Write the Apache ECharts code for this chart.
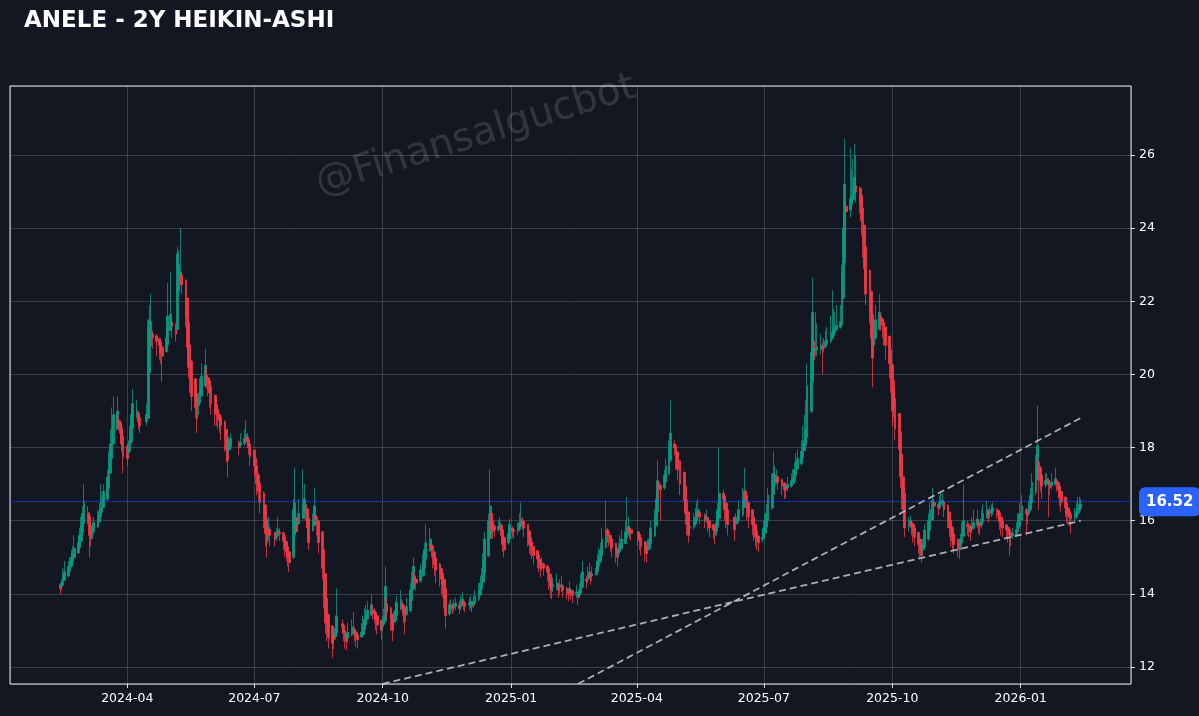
<!DOCTYPE html>
<html>
<head>
<meta charset="utf-8">
<script src="https://cdn.jsdelivr.net/npm/echarts@6/dist/echarts.min.js"></script>
<style>
html,body{margin:0;padding:0;background:#131722;}
#chart{width:1199px;height:716px;}
</style>
</head>
<body>
<div id="chart"></div>
<script>
// ---- DATA ----
const TITLE = 'ANELE - 2Y HEIKIN-ASHI';
const WATERMARK = '@Finansalgucbot';
const START_DATE = '2024-02-13';
const HOLIDAYS = ['2024-04-11','2024-04-12','2024-04-23','2024-05-01','2024-06-17','2024-06-18','2024-06-19','2024-07-15','2024-08-30','2024-10-29',
  '2025-01-01','2025-03-31','2025-04-01','2025-04-23','2025-05-01','2025-05-19','2025-06-06','2025-06-09','2025-07-15','2025-10-29','2026-01-01'];
const LAST_PRICE = 16.52;
const X_MIN = '2024-01-08', X_MAX = '2026-03-21';
const Y_MIN = 11.535, Y_MAX = 27.89;
const TREND_UP = [['2025-02-18', 11.54], ['2026-02-13', 18.81]];
const TREND_LOW = [['2024-10-01', 11.54], ['2026-02-13', 16.0]];

const haOpen = [
14.25,14.2,14.25,14.38,14.49,14.62,14.76,14.88,14.99,15.12,
15.26,15.43,15.67,15.93,16.22,16.13,15.87,15.68,15.71,15.83,
15.97,16.11,16.23,16.37,16.59,16.9,17.3,17.7,18.1,18.5,
18.75,18.68,18.54,18.32,18.04,17.87,17.91,18.16,18.53,18.87,
18.94,18.82,18.71,18.8,20.05,20.78,21.12,21.06,20.98,20.89,
20.75,20.63,20.81,21.2,21.43,21.36,21.23,22.27,22.63,22.72,
22.58,22.09,21.42,20.81,20.36,19.88,19.49,19.15,19.22,19.41,
19.68,19.97,19.91,19.83,19.67,19.43,19.19,19.05,
18.9,18.83,18.71,18.5,18.23,17.94,18.02,18.13,18.07,18.11,18.18,
18.27,18.21,18.1,17.93,17.71,17.5,17.25,17.03,16.76,16.43,
16.04,15.72,15.76,15.68,
15.55,15.6,15.68,15.67,15.56,
15.43,15.29,15.15,15.0,15.65,16.08,15.89,15.92,16.06,16.28,
16.44,16.32,16.06,15.73,15.87,16.13,16.09,16.0,15.7,15.2,
14.55,13.88,13.44,13.12,12.89,12.82,12.94,13.17,13.14,
13.0,12.88,12.79,12.87,12.99,13.02,12.96,12.88,12.82,12.89,
13.02,13.16,13.31,13.43,13.57,13.54,13.5,13.4,13.28,13.14,
13.17,13.26,13.73,13.62,13.44,13.22,13.26,13.41,13.58,13.72,
13.69,13.6,13.43,13.54,13.82,14.14,14.45,14.4,14.35,14.5,
14.7,14.95,15.18,15.34,15.3,15.15,14.98,14.82,14.69,14.55,
14.4,14.15,13.45,13.58,13.68,13.62,13.66,13.7,13.65,13.72,
13.8,13.75,13.7,13.72,13.76,13.7,13.75,13.85,13.98,14.14,
14.32,14.58,15.04,15.52,16.2,16.0,15.85,15.75,15.8,15.88,
15.75,15.55,15.4,15.5,15.8,15.75,15.72,15.76,15.85,16.0,
15.98,15.9,15.72,15.55,15.42,15.3,15.18,15.06,14.95,14.8,
14.82,14.76,14.68,14.54,14.37,14.2,14.22,14.26,14.18,14.19,
14.22,14.16,14.1,14.05,14.1,14.08,14.0,14.02,13.96,14.03,
14.19,14.4,14.38,14.44,14.52,14.5,14.52,14.61,14.76,14.88,
15.04,15.27,15.75,15.68,15.6,15.5,15.38,15.24,15.12,15.16,
15.25,15.38,15.54,15.67,15.8,15.75,15.7,15.62,15.54,15.42,
15.28,15.19,15.24,15.37,15.58,15.86,16.23,17.05,16.97,16.9,
17.07,17.3,17.65,18.1,18.05,17.88,17.64,17.32,16.94,16.57,
16.24,15.8,15.82,15.91,16.0,16.12,16.22,16.16,16.08,16.09,
16.0,15.9,15.82,15.7,15.82,16.06,16.75,16.67,16.48,16.29,
16.1,15.9,15.95,16.02,16.16,16.38,16.8,16.7,16.5,16.3,
16.1,15.9,15.72,15.58,15.49,15.52,15.66,15.83,16.0,16.35,
16.72,17.0,17.1,17.2,17.12,17.03,16.94,16.9,16.95,17.02,
17.1,17.25,17.42,17.56,17.73,17.92,18.06,18.28,18.99,19.8,
20.9,20.65,20.68,20.7,20.78,20.74,20.77,20.84,20.9,20.98,
21.06,21.15,21.22,21.29,21.37,22.1,23.05,24.6,24.5,24.65,
24.78,24.94,25.17,25.1,24.9,24.55,24.08,23.49,22.85,22.27,
21.64,20.8,21.0,21.25,21.6,21.52,21.43,21.3,21.05,20.68,
20.26,19.63,19.35,18.93,18.44,17.82,17.2,16.75,15.85,15.9,
15.95,15.9,15.8,15.68,15.5,15.35,15.2,15.28,15.5,15.75,
16.02,16.5,16.45,16.4,16.45,16.5,16.52,16.42,16.24,16.02,
15.82,15.64,15.5,15.38,15.3,15.4,15.58,15.9,15.88,15.84,
15.77,15.8,15.88,15.96,15.93,15.89,15.97,16.08,16.25,16.2,
16.22,16.26,16.3,16.28,16.22,16.1,15.98,15.89,15.82,15.76,
15.68,15.6,15.62,15.7,15.85,16.02,16.3,16.25,16.2,16.3,
16.5,16.78,17.14,17.6,17.45,17.25,17.0,17.05,17.1,17.05,
16.95,17.0,17.1,17.05,16.95,16.8,16.65,16.5,16.35,16.25,
16.18,16.1,16.12,16.18,16.27,16.36];

const haClose = [
14.15,14.3,14.5,14.6,14.75,14.9,15.0,15.1,15.25,15.4,
15.6,15.9,16.2,16.5,16.05,15.6,15.5,15.75,15.95,16.1,
16.25,16.35,16.5,16.8,17.2,17.7,18.1,18.5,18.9,19.0,
18.6,18.4,18.1,17.75,17.7,17.95,18.4,18.9,19.2,19.0,
18.7,18.6,18.9,21.3,21.5,21.45,21.0,20.9,20.8,20.6,
20.5,21.0,21.6,21.65,21.3,21.1,23.3,23.0,22.8,22.45,
21.6,20.75,20.2,19.9,19.4,19.1,18.8,19.3,19.6,19.95,
20.25,19.85,19.75,19.5,19.2,18.95,18.9,18.85,
18.75,18.6,18.3,17.95,17.65,18.1,18.25,18.0,18.15,18.25,18.35,
18.15,18.0,17.75,17.5,17.3,17.0,16.8,16.5,16.1,15.65,
15.4,15.8,15.6,15.5,
15.65,15.75,15.65,15.45,15.3,
15.15,15.0,14.85,16.3,16.5,15.7,15.95,16.2,16.5,16.6,
16.2,15.8,15.4,16.0,16.4,16.05,15.9,15.4,14.7,13.9,
13.2,13.0,12.8,12.65,12.75,13.05,13.4,13.1,12.95,
12.8,12.7,12.95,13.1,13.05,12.9,12.8,12.75,12.95,13.15,
13.3,13.45,13.55,13.7,13.5,13.45,13.3,13.15,13.0,13.2,
13.35,14.2,13.5,13.25,13.0,13.3,13.55,13.75,13.85,13.65,
13.5,13.25,13.65,14.1,14.45,14.75,14.35,14.3,14.65,14.9,
15.2,15.4,15.5,15.25,15.0,14.8,14.65,14.55,14.4,14.25,
13.9,13.4,13.7,13.7,13.6,13.7,13.75,13.6,13.8,13.85,
13.7,13.65,13.75,13.8,13.65,13.8,13.95,14.1,14.3,14.5,
14.85,15.5,16.0,16.4,15.75,15.7,15.75,15.85,15.95,15.6,
15.35,15.2,15.65,15.9,15.7,15.7,15.8,15.95,16.05,15.95,
15.8,15.55,15.35,15.3,15.2,15.05,14.95,14.85,14.7,14.85,
14.7,14.6,14.4,14.2,14.1,14.25,14.3,14.1,14.2,14.25,
14.1,14.05,14.0,14.15,14.05,13.95,14.05,13.9,14.1,14.35,
14.6,14.35,14.5,14.6,14.45,14.55,14.7,14.9,15.0,15.2,
15.5,15.75,15.6,15.55,15.4,15.25,15.1,15.0,15.2,15.35,
15.5,15.7,15.8,15.85,15.7,15.65,15.55,15.45,15.3,15.15,
15.1,15.3,15.5,15.8,16.15,16.6,17.1,16.9,16.85,17.25,
17.5,18.0,18.4,18.0,17.7,17.4,17.0,16.55,16.2,15.9,
15.6,15.85,16.0,16.1,16.25,16.3,16.1,16.0,16.1,15.9,
15.8,15.75,15.6,15.95,16.3,16.75,16.6,16.3,16.1,15.9,
15.75,16.0,16.1,16.3,16.6,16.8,16.6,16.3,16.1,15.9,
15.7,15.55,15.45,15.4,15.55,15.8,16.0,16.2,16.7,17.1,
17.3,17.25,17.2,17.05,16.95,16.85,16.85,17.0,17.1,17.2,
17.4,17.6,17.7,17.9,18.1,18.2,18.5,19.7,20.6,21.7,
20.4,20.7,20.75,20.8,20.7,20.8,20.9,20.95,21.05,21.15,
21.25,21.3,21.35,21.45,22.8,24.0,25.2,24.45,24.8,24.9,
25.1,25.4,25.0,24.7,24.2,23.6,22.9,22.2,21.7,21.0,
20.45,21.25,21.5,21.7,21.45,21.35,21.2,20.8,20.3,19.85,
19.0,19.1,18.5,17.95,17.2,16.6,16.3,15.8,15.95,16.0,
15.85,15.7,15.55,15.35,15.2,15.05,15.35,15.75,16.0,16.3,
16.55,16.4,16.35,16.5,16.55,16.55,16.3,16.05,15.8,15.6,
15.45,15.35,15.25,15.2,15.5,15.75,16.0,15.85,15.8,15.7,
15.85,15.95,16.05,15.9,15.85,16.05,16.2,16.3,16.15,16.25,
16.3,16.35,16.25,16.15,16.0,15.85,15.8,15.75,15.7,15.6,
15.55,15.65,15.75,16.0,16.2,16.4,16.2,16.15,16.4,16.7,
17.05,17.5,18.05,17.35,17.1,16.95,17.1,17.15,17.0,16.9,
17.05,17.15,17.0,16.85,16.65,16.5,16.35,16.2,16.15,16.1,
16.05,16.15,16.25,16.35,16.45,16.45];

const haLow = [
14.0,14.1,14.2,14.35,14.45,14.6,14.7,14.85,14.95,15.1,
15.2,15.4,15.65,15.9,15.9,15.0,15.3,15.5,15.6,15.8,
15.95,16.1,16.2,16.35,16.55,16.9,17.3,17.7,18.1,18.5,
18.5,18.2,17.9,17.3,17.5,17.8,17.85,18.1,18.5,18.8,
18.5,18.4,18.6,18.8,20.0,20.7,20.7,20.5,20.4,20.3,
19.8,20.6,20.8,21.2,21.0,20.9,21.2,22.2,22.5,22.2,
21.3,20.5,19.9,19.5,19.0,18.8,18.4,18.9,19.2,19.4,
19.65,19.6,19.4,19.1,18.9,18.6,18.6,18.5,
18.4,18.2,17.9,17.6,17.2,17.8,17.95,17.8,18.0,18.05,18.1,
18.0,17.8,17.5,17.2,17.0,16.7,16.5,16.2,15.8,15.3,
15.0,15.45,15.3,15.3,
15.45,15.55,15.45,15.2,15.0,
14.9,14.75,14.6,14.95,15.6,15.6,15.8,15.9,16.05,16.25,
16.0,15.5,15.2,15.7,15.85,15.9,15.6,15.1,14.4,13.6,
12.9,12.7,12.5,12.25,12.5,12.75,12.9,12.9,12.7,
12.5,12.45,12.7,12.85,12.95,12.7,12.55,12.5,12.8,12.85,
13.0,13.1,13.3,13.4,13.3,13.2,13.0,12.9,12.75,13.0,
13.1,13.2,13.3,13.0,12.7,13.1,13.2,13.4,13.55,13.4,
13.2,12.9,13.4,13.5,13.8,14.1,14.2,14.1,14.3,14.45,
14.65,14.9,15.15,15.0,14.7,14.5,14.3,14.2,14.0,13.9,
13.6,13.05,13.4,13.5,13.45,13.5,13.55,13.45,13.55,13.65,
13.55,13.5,13.55,13.6,13.5,13.6,13.7,13.8,13.95,14.1,
14.3,14.55,15.0,15.5,15.6,15.5,15.55,15.7,15.75,15.4,
15.15,15.0,15.35,15.45,15.55,15.5,15.6,15.7,15.8,15.75,
15.55,15.3,15.1,15.05,14.95,14.8,14.7,14.6,14.45,14.65,
14.5,14.35,14.1,13.9,13.85,14.05,14.1,13.9,14.0,14.05,
13.9,13.85,13.8,13.95,13.85,13.75,13.9,13.7,13.9,14.0,
14.15,14.15,14.3,14.4,14.25,14.35,14.5,14.6,14.7,14.85,
15.0,15.25,15.4,15.3,15.15,15.0,14.85,14.75,15.0,15.1,
15.2,15.35,15.5,15.6,15.5,15.45,15.3,15.2,15.05,14.9,
14.85,15.1,15.2,15.35,15.55,15.85,16.2,16.6,16.0,16.85,
17.05,17.25,17.6,17.8,17.4,17.1,16.7,16.3,15.9,15.6,
15.4,15.6,15.75,15.85,15.95,16.05,15.9,15.8,15.95,15.7,
15.55,15.5,15.35,15.6,15.8,16.0,16.3,16.0,15.8,15.6,
15.45,15.85,15.9,16.0,16.1,16.35,16.35,16.0,15.8,15.6,
15.45,15.3,15.2,15.15,15.4,15.5,15.6,15.8,15.95,16.3,
16.7,16.95,17.0,16.85,16.7,16.6,16.6,16.8,16.9,17.0,
17.05,17.2,17.4,17.5,17.7,17.9,18.0,18.25,18.95,19.75,
19.9,20.5,20.5,20.55,20.0,20.6,20.7,20.8,20.85,20.95,
21.0,21.1,21.2,21.25,21.35,22.05,23.0,23.9,24.3,24.5,
24.7,24.9,24.7,24.4,23.8,23.2,22.4,21.9,21.4,20.6,
19.65,20.6,20.95,21.2,21.2,21.0,20.8,20.4,19.9,19.5,
18.6,18.8,18.2,17.6,16.9,16.3,15.9,15.55,15.7,15.8,
15.6,15.4,15.3,15.1,14.95,14.85,15.1,15.2,15.45,15.7,
16.0,16.2,16.15,16.3,16.35,16.4,16.1,15.8,15.55,15.3,
15.2,15.1,15.0,14.95,15.2,15.35,15.55,15.6,15.55,15.45,
15.65,15.75,15.8,15.65,15.6,15.8,15.9,16.05,15.95,16.05,
16.1,16.15,16.05,15.95,15.75,15.6,15.55,15.5,15.4,15.05,
15.3,15.5,15.55,15.65,15.8,16.0,15.6,15.9,16.15,16.25,
16.45,16.7,17.1,16.3,16.8,16.6,16.9,16.95,16.1,16.7,
16.85,16.95,16.8,16.6,16.4,16.25,16.1,15.95,15.9,15.85,
15.65,15.95,16.05,16.1,16.2,16.3];

const haHigh = [
14.3,14.4,14.7,14.9,14.9,15.0,15.2,15.3,15.6,15.6,
15.8,16.1,16.4,17.0,16.4,16.2,15.9,15.9,16.1,16.3,
16.5,17.0,16.7,17.0,17.4,17.9,18.5,19.1,19.4,19.4,
18.9,18.75,18.6,18.35,18.1,18.2,18.6,19.2,19.6,19.3,
19.0,18.85,19.2,21.5,21.9,22.2,21.2,21.1,21.0,20.9,
20.8,21.3,22.5,22.8,21.5,21.4,23.5,23.4,24.0,22.8,
22.6,22.1,21.4,20.8,20.4,19.9,19.5,19.5,19.9,20.3,
20.7,20.2,19.95,19.85,19.7,19.45,19.2,19.1,
18.95,18.85,18.75,18.5,18.25,18.3,18.4,18.2,18.4,18.5,18.75,
18.4,18.3,18.1,17.95,17.75,17.5,17.3,17.05,16.8,16.45,
16.05,16.1,15.85,15.7,
15.8,16.1,15.8,15.7,15.6,
15.45,15.3,15.15,16.6,17.45,16.2,16.2,16.6,17.4,17.0,
16.5,16.35,16.1,16.2,16.9,16.4,16.15,16.0,15.7,15.2,
14.55,13.9,13.45,13.15,12.95,13.3,14.15,13.3,13.2,
12.95,12.9,13.2,13.3,13.5,13.1,13.0,12.9,13.2,13.4,
13.6,13.7,13.8,14.0,13.7,13.6,13.5,13.4,13.3,13.4,
13.6,14.75,13.9,13.65,13.45,13.5,13.8,13.95,14.1,13.8,
13.7,13.6,13.9,14.3,14.6,15.0,14.6,14.5,14.8,15.1,
15.4,15.9,15.8,15.4,15.3,15.15,15.0,14.85,14.7,14.55,
14.4,14.15,13.8,13.85,13.75,13.85,13.9,13.8,13.95,14.05,
13.85,13.8,13.9,13.95,13.8,13.95,14.1,14.3,14.5,14.7,
15.1,15.7,16.2,17.4,16.3,16.05,15.9,16.0,16.1,15.9,
15.75,15.55,15.8,16.05,15.85,15.8,15.95,16.2,16.5,16.1,
16.0,15.9,15.75,15.55,15.45,15.3,15.2,15.1,14.95,15.0,
14.85,14.8,14.7,14.55,14.4,14.45,14.55,14.3,14.4,14.5,
14.25,14.2,14.15,14.35,14.15,14.1,14.25,14.05,14.3,14.55,
14.9,14.5,14.75,14.85,14.6,14.75,14.9,15.1,15.25,15.4,
15.8,16.55,15.8,15.7,15.6,15.5,15.4,15.25,15.4,15.6,
15.75,16.0,16.65,16.1,15.85,15.8,15.7,15.65,15.55,15.45,
15.3,15.5,15.7,16.0,16.3,16.8,17.65,17.1,17.0,17.4,
17.7,18.2,19.3,18.2,18.05,17.9,17.65,17.35,16.95,16.6,
16.25,16.0,16.2,16.35,16.5,16.6,16.25,16.2,16.3,16.1,
16.0,15.9,15.85,16.1,16.5,18.0,16.85,16.7,16.5,16.3,
16.1,16.2,16.3,16.55,16.9,17.45,16.85,16.7,16.5,16.3,
16.1,15.9,15.75,15.6,15.75,16.0,16.2,16.45,16.9,17.3,
17.9,17.5,17.4,17.25,17.15,17.05,16.95,17.2,17.3,17.4,
17.6,17.85,17.95,18.2,18.6,18.9,19.3,20.3,21.0,22.65,
21.0,21.7,21.4,21.1,20.9,21.0,21.2,21.3,21.6,22.3,
21.8,21.7,21.9,21.9,23.0,24.4,26.45,24.7,26.2,25.6,
25.9,26.3,26.0,25.15,24.9,24.55,24.1,23.5,22.85,22.3,
21.65,21.5,21.9,22.2,21.65,21.55,21.45,21.3,21.05,20.7,
20.3,19.65,19.85,18.95,18.45,17.85,17.2,16.75,16.1,16.15,
16.0,15.95,15.8,15.7,15.5,15.35,15.5,15.9,16.2,16.5,
16.9,16.6,16.5,16.7,16.8,16.75,16.55,16.45,16.25,16.05,
15.85,15.65,15.5,15.4,15.65,15.95,17.0,16.0,15.95,15.9,
16.1,16.3,16.3,16.05,15.95,16.3,16.45,16.55,16.3,16.4,
16.45,16.5,16.35,16.3,16.25,16.1,16.0,15.9,15.85,15.8,
15.7,15.8,15.95,16.2,16.5,16.7,16.35,16.3,16.55,16.9,
17.3,17.8,19.15,17.65,17.5,17.3,17.3,17.3,17.15,17.1,
17.3,17.45,17.15,17.05,16.95,16.8,16.65,16.5,16.35,16.25,
16.2,16.35,16.5,16.65,16.65,16.6];

// ---- trading calendar (weekdays minus exchange holidays) ----
function tradingDates(start, n, holidays) {
  const hs = new Set(holidays);
  const out = [];
  const d = new Date(start + 'T00:00:00Z');
  while (out.length < n) {
    const dow = d.getUTCDay();
    const s = d.toISOString().slice(0, 10);
    if (dow !== 0 && dow !== 6 && !hs.has(s)) out.push(s);
    d.setUTCDate(d.getUTCDate() + 1);
  }
  return out;
}
const N = Math.min(haOpen.length, haClose.length, haLow.length, haHigh.length);
const dates = tradingDates(START_DATE, N, HOLIDAYS);
const candles = dates.map((d, i) => [d, haOpen[i], haClose[i], haLow[i], haHigh[i]]);

const UP = '#089981', DOWN = '#f23645';
const FONT = 'DejaVu Sans';
const DAY = 86400000;

const chart = echarts.init(document.getElementById('chart'), null, {renderer: 'canvas'});
chart.setOption({
  backgroundColor: '#131722',
  animation: false,
  title: {
    text: TITLE, left: 19, top: 5,
    textStyle: {color: '#ffffff', fontSize: 23, fontWeight: 'bold', fontFamily: FONT}
  },
  graphic: [{
    type: 'text', x: 476, y: 136, rotation: 0.3, silent: true, z: 0,
    style: {text: WATERMARK, fontSize: 39, fontFamily: FONT, fill: 'rgba(255,255,255,0.13)', textAlign: 'center', textVerticalAlign: 'middle'}
  }],
  grid: {left: 10, right: 68, top: 86, bottom: 32, show: true, borderColor: 'rgba(255,255,255,0.9)', borderWidth: 1, containLabel: false},
  xAxis: {
    type: 'time', min: X_MIN, max: X_MAX,
    minInterval: 91.5 * DAY, maxInterval: 91.5 * DAY,
    axisLine: {show: false},
    axisTick: {show: true, length: 4, lineStyle: {color: 'rgba(255,255,255,0.85)'}},
    axisLabel: {
      color: '#ffffff', fontSize: 12.5, fontFamily: FONT, margin: 8, hideOverlap: false,
      showMinLabel: false, showMaxLabel: false,
      formatter: function (v) { const d = new Date(v); return d.getFullYear() + '-' + String(d.getMonth() + 1).padStart(2, '0'); }
    },
    splitLine: {show: true, lineStyle: {color: 'rgba(255,255,255,0.17)', width: 1}}
  },
  yAxis: {
    type: 'value', position: 'right', min: Y_MIN, max: Y_MAX, splitNumber: 8, scale: true,
    axisLine: {show: false},
    axisTick: {show: true, length: 4, lineStyle: {color: 'rgba(255,255,255,0.85)'}},
    axisLabel: {color: '#ffffff', fontSize: 12.5, fontFamily: FONT, margin: 8, showMinLabel: false, showMaxLabel: false},
    splitLine: {show: true, lineStyle: {color: 'rgba(255,255,255,0.17)', width: 1}}
  },
  series: [{
    type: 'candlestick',
    dimensions: ['date', 'open', 'close', 'low', 'high'],
    encode: {x: 0, y: [1, 2, 3, 4]},
    data: candles,
    barWidth: 2.2,
    itemStyle: {color: UP, color0: DOWN, borderColor: UP, borderColor0: DOWN, borderWidth: 0.8},
    markLine: {
      silent: true, symbol: 'none',
      lineStyle: {color: 'rgba(50,100,255,0.7)', type: 'dotted', width: 1},
      label: {
        show: true, position: 'end', distance: 8,
        formatter: LAST_PRICE.toFixed(2),
        color: '#ffffff', fontSize: 15, fontWeight: 'bold', fontFamily: FONT,
        backgroundColor: '#2962ff', borderRadius: 6, padding: [8, 7, 6, 7]
      },
      data: [{yAxis: LAST_PRICE}]
    },
    z: 3
  }, {
    type: 'line', data: TREND_UP, symbol: 'none', silent: true, z: 4,
    lineStyle: {color: 'rgba(200,200,205,0.85)', width: 1.8, type: [7, 4]}
  }, {
    type: 'line', data: TREND_LOW, symbol: 'none', silent: true, z: 4,
    lineStyle: {color: 'rgba(200,200,205,0.85)', width: 1.8, type: [7, 4]}
  }]
});
</script>
</body>
</html>
